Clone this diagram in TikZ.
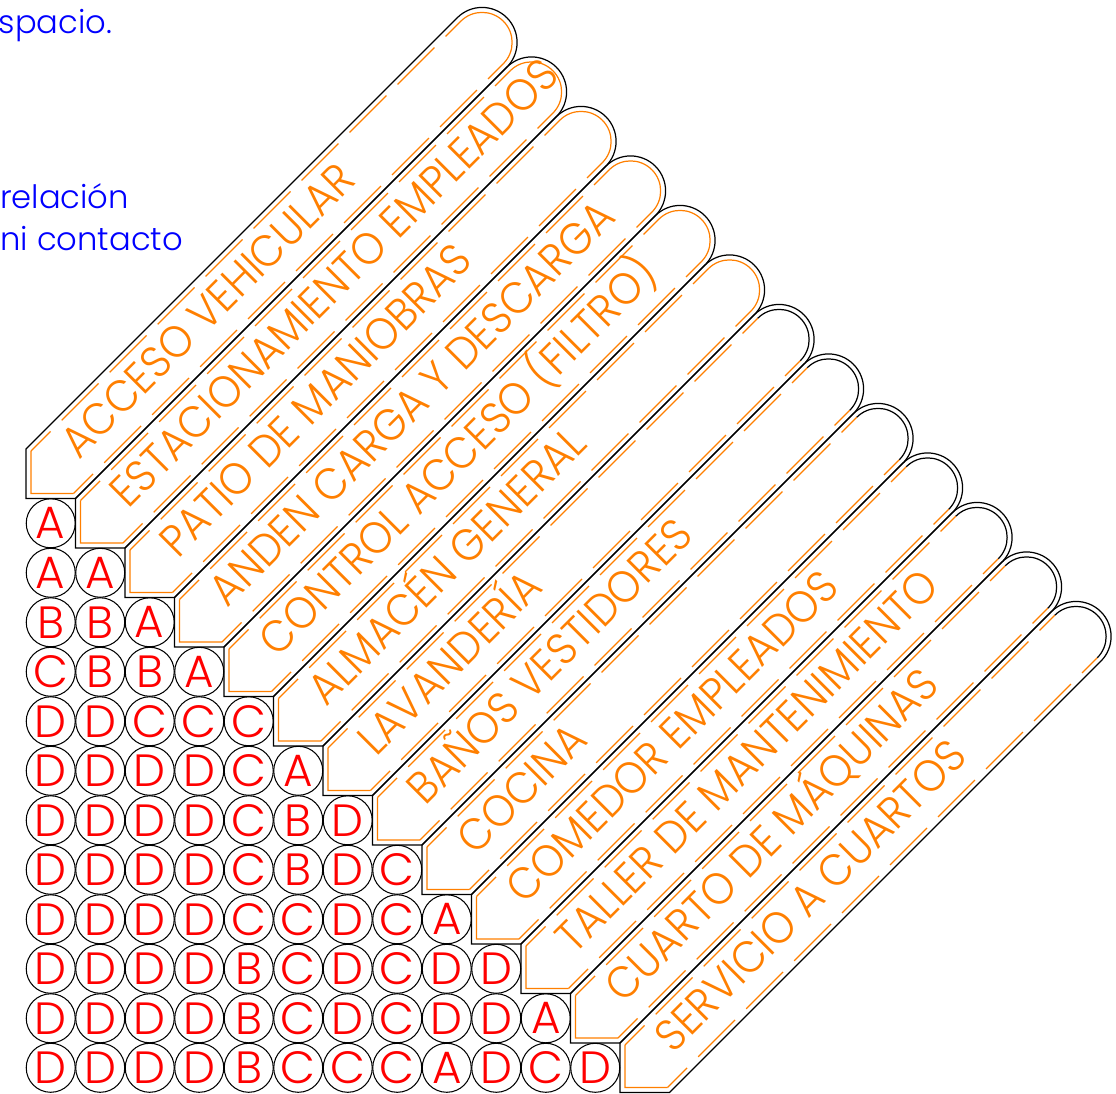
\documentclass[tikz,border=0pt]{standalone}
\usepackage{fontspec}
\setmainfont{Poppins}[UprightFont=* Light]
\newfontfamily\barfont{Poppins}[UprightFont=* Light,FakeStretch=0.93]
\usetikzlibrary{calc}
\definecolor{cadorange}{RGB}{255,127,0}
\definecolor{cadred}{RGB}{255,0,0}
\definecolor{cadblue}{RGB}{0,0,255}
\newcommand{\barhw}{0.7071}% half width of a bar
\newcommand{\barin}{0.6071}% half width of the inner orange line
\newcommand{\barlen}{13.03}% tip to centre of the round end
\tikzset{
  mcell/.style={draw,circle,line width=0.6pt,minimum size=0.99cm,inner sep=0pt,text=cadred,font=\fontsize{26}{26}\selectfont},
  bedge/.style={line width=0.7pt,black},
  bline/.style={line width=0.7pt,cadorange},
  bdash/.style={line width=0.7pt,cadorange,dash pattern=on 30pt off 9pt,dash phase=14pt},
  blab/.style={text=cadorange,font=\barfont\fontsize{25.6}{25.6}\selectfont,anchor=base west,inner sep=0pt,rotate=45},
  bnote/.style={text=cadblue,font=\fontsize{18.5}{20}\selectfont,anchor=base west,inner sep=0pt},
}

\begin{document}
\begin{tikzpicture}
\useasboundingbox (-0.525,-12.01) rectangle (22.02,10.071);
\clip (-0.525,-12.01) rectangle (22.02,10.071);
%% one bar per space, all the same bar shifted one cell down-right;
%% pointed end on the matrix, round end up-right
\foreach \k/\arccol/\name in {1/cadorange/{ACCESO VEHICULAR},2/cadorange/{ESTACIONAMIENTO EMPLEADOS},
    3/cadorange/{PATIO DE MANIOBRAS},4/cadorange/{ANDEN CARGA Y DESCARGA},
    5/cadorange/{CONTROL ACCESO (FILTRO)},6/cadorange/{ALMACÉN GENERAL},
    7/black/{LAVANDERÍA},8/black/{BAÑOS VESTIDORES},9/black/{COCINA},
    10/black/{COMEDOR EMPLEADOS},11/black/{TALLER DE MANTENIMIENTO},
    12/black/{CUARTO DE MÁQUINAS},13/black/{SERVICIO A CUARTOS}}{
\begin{scope}[shift={(\k-1,1-\k)},rotate=45]
  \draw[bedge] (\barlen,\barhw) -- (\barhw,\barhw) -- (0,0) -- (\barhw,-\barhw) -- (\barlen,-\barhw)
    arc[start angle=-90,end angle=90,radius=\barhw];
  % inner line: solid round the point, dashed along the sides
  \draw[bline] (0.7485,\barin) -- (0.1414,0) -- (0.7485,-\barin);
  \draw[bdash] (0.7485,\barin) -- (\barlen,\barin);
  \draw[bdash] (0.7485,-\barin) -- (\barlen,-\barin);
  \draw[line width=0.7pt,\arccol] (\barlen,-\barin) arc[start angle=-90,end angle=90,radius=\barin];
  \node[blab] (lab\k) at (1.3,-0.22) {\name};
\end{scope}}
% relation matrix, row r holds the pairs of space r+1 with the spaces before it
\foreach \r/\row in {1/{A},2/{A,A},3/{B,B,A},4/{C,B,B,A},5/{D,D,C,C,C},6/{D,D,D,D,C,A},
    7/{D,D,D,D,C,B,D},8/{D,D,D,D,C,B,D,C},9/{D,D,D,D,C,C,D,C,A},
    10/{D,D,D,D,B,C,D,C,D,D},11/{D,D,D,D,B,C,D,C,D,D,A},12/{D,D,D,D,B,C,C,C,A,D,C,D}}{
  \foreach \l [count=\c] in \row{
    \node[mcell] (m\r-\c) at (\c-0.5,0.5-\r) {\l};}}
% legend text, cut by the left edge
\node[bnote] (note1) at (-0.56,9.404) {spacio.};
\node[bnote] (note2) at (-0.53,5.869) {relación};
\node[bnote] (note3) at (-0.52,5.02) {ni contacto};
\end{tikzpicture}
\end{document}
